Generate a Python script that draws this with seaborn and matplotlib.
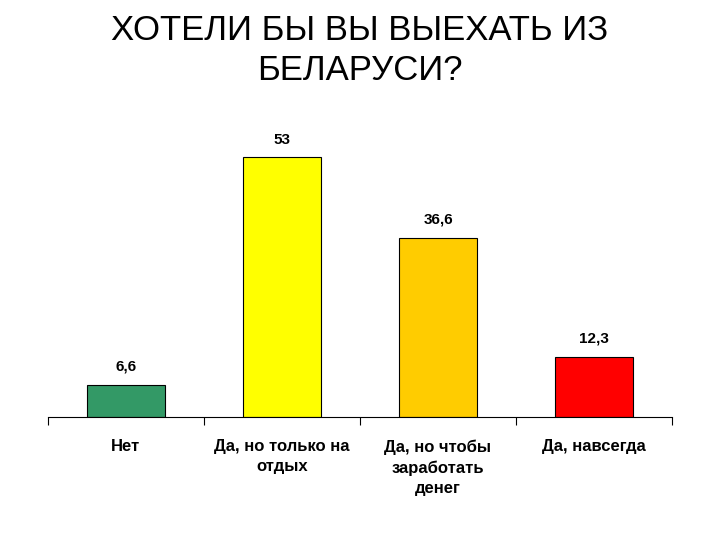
import matplotlib
matplotlib.use("Agg")
import matplotlib.pyplot as plt
import seaborn as sns
import pandas as pd

categories = ["Нет", "Да, но только на\nотдых", "Да, но чтобы\nзаработать\nденег", "Да, навсегда"]
values = [6.6, 53, 36.6, 12.3]
labels = ["6,6", "53", "36,6", "12,3"]
colors = ["#339966", "#FFFF00", "#FFCC00", "#FF0000"]

sns.set_style("white")
plt.rcParams['font.family'] = ['Liberation Sans', 'DejaVu Sans']
plt.rcParams['text.color'] = 'black'

fig = plt.figure(figsize=(7.2, 5.4), dpi=100)
ax = fig.add_axes([48/720, 1-417/540, 624/720, 294/540])
df = pd.DataFrame({"cat": categories, "val": values})
sns.barplot(data=df, x="cat", y="val", hue="cat", palette=colors, legend=False,
            width=0.5, edgecolor="black", linewidth=0.8, ax=ax, saturation=1)
ax.set_ylim(0, 60)
ax.set_xlim(-0.5, 3.5)
for i, (v, l) in enumerate(zip(values, labels)):
    ax.text(i, v + 2.2, l, ha="center", va="bottom", fontsize=11, fontweight="bold", color="black")
for s in ["top", "right", "left"]:
    ax.spines[s].set_visible(False)
ax.spines["bottom"].set_color("black")
ax.set_yticks([])
ax.set_xlabel(""); ax.set_ylabel("")
ax.set_xticks([-0.5, 0.5, 1.5, 2.5, 3.5], minor=False)
ax.set_xticklabels([])
ax.tick_params(axis="x", direction="out", length=6, color="black", bottom=True)
for i, c in enumerate(categories):
    ax.text(i, -4.5, c, ha="center", va="top", fontsize=12, fontweight="bold",
            linespacing=1.45, color="black")
fig.text(0.5, 0.975, "ХОТЕЛИ БЫ ВЫ ВЫЕХАТЬ ИЗ\nБЕЛАРУСИ?", ha="center", va="top",
         fontsize=25, linespacing=1.3, color="black")
fig.savefig("out.png", dpi=100)
